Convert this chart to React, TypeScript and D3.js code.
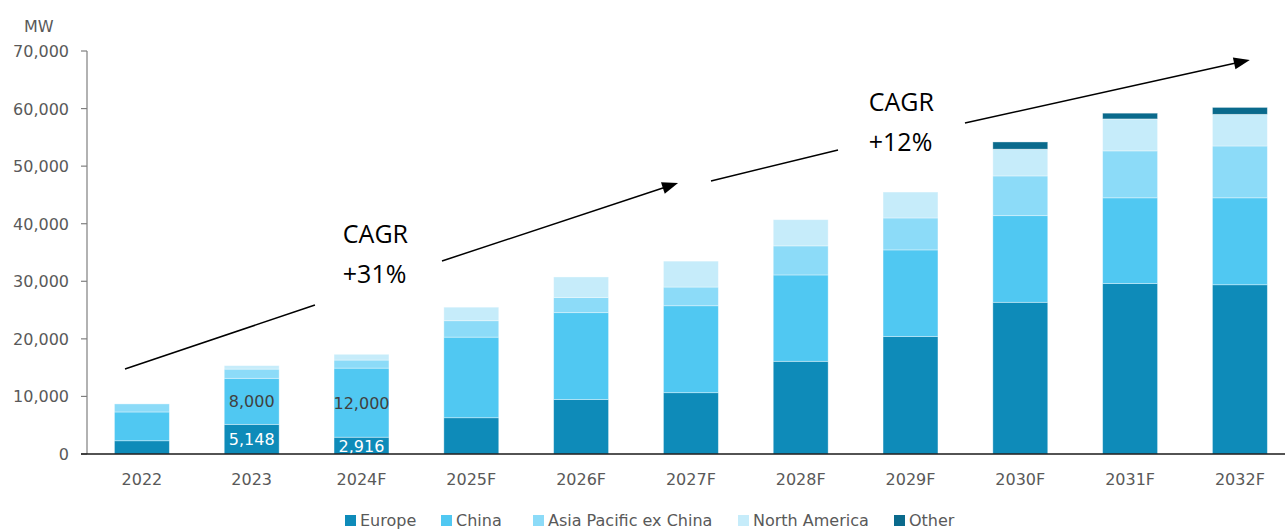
import React from 'react';
import * as d3 from 'd3';

const years = ['2022', '2023', '2024F', '2025F', '2026F', '2027F', '2028F', '2029F', '2030F', '2031F', '2032F'];
const europe = [2300, 5148, 2916, 6300, 9450, 10650, 16100, 20400, 26350, 29600, 29400];
const china = [5000, 8000, 12000, 14000, 15100, 15100, 15000, 15050, 15050, 14900, 15100];
const apac = [1400, 1600, 1400, 2850, 2650, 3250, 5050, 5550, 6900, 8150, 9000];
const northAmerica = [0, 600, 1000, 2350, 3550, 4500, 4550, 4500, 4650, 5550, 5500];
const other = [0, 0, 0, 0, 0, 0, 0, 0, 1250, 1000, 1200];

const seriesNames = ['Europe', 'China', 'Asia Pacific ex China', 'North America', 'Other'];
const seriesKeys = ['europe', 'china', 'apac', 'na', 'other'];
const colors = ['#0E8BB9', '#50C8F2', '#8CDBF8', '#C6ECFA', '#0A6A8C'];
const yTicks = [0, 10000, 20000, 30000, 40000, 50000, 60000, 70000];

// value labels: [year index, series index, text, color]
const valueLabels: [number, number, string, string][] = [
  [1, 1, '8,000', '#404040'],
  [1, 0, '5,148', '#ffffff'],
  [2, 1, '12,000', '#404040'],
  [2, 0, '2,916', '#ffffff'],
];

// CAGR annotations in data space: [category index position, value]
const arrow1a: [number, number][] = [[-0.154, 14765], [1.576, 25880]];
const arrow1b: [number, number][] = [[2.733, 33525], [4.883, 47070]];
const arrow2a: [number, number][] = [[5.183, 47420], [6.34, 52800]];
const arrow2b: [number, number][] = [[7.496, 57500], [10.09, 68440]];
const cagrTexts: [number, number, string][] = [
  [1.83, 36650, 'CAGR'],
  [1.83, 29700, '+31%'],
  [6.62, 59630, 'CAGR'],
  [6.62, 52630, '+12%'],
];

const W = 1285;
const H = 530;
const axisX = 87;
const plotTop = 51;
const plotBottom = 454;
const step = 109.8;

export default function App() {
  const x = d3.scaleBand<string>().domain(years).range([axisX, axisX + step * years.length]).paddingInner(0.5).paddingOuter(0.25);
  const y = d3.scaleLinear().domain([0, 70000]).range([plotBottom, plotTop]);
  const xi = d3.scaleLinear().domain([0, 1]).range([x(years[0])! + x.bandwidth() / 2, x(years[1])! + x.bandwidth() / 2]);

  const table = years.map((yr, i) => ({
    year: yr,
    europe: europe[i],
    china: china[i],
    apac: apac[i],
    na: northAmerica[i],
    other: other[i],
  }));
  const stacked = d3.stack<any>().keys(seriesKeys)(table);

  const font = '"DejaVu Sans", Verdana, sans-serif';
  const annFont = '"Open Sans", sans-serif';
  const gray = '#595959';

  const line = d3.line<[number, number]>().x(d => xi(d[0])).y(d => y(d[1]));

  const arrowHead = (pts: [number, number][]) => {
    const [p0, p1] = pts.map(d => [xi(d[0]), y(d[1])]);
    const ang = Math.atan2(p1[1] - p0[1], p1[0] - p0[0]);
    const len = 16, wid = 6;
    const bx = p1[0] - len * Math.cos(ang), by = p1[1] - len * Math.sin(ang);
    const nx = -Math.sin(ang), ny = Math.cos(ang);
    return `M${p1[0]},${p1[1]}L${bx + nx * wid},${by + ny * wid}L${bx - nx * wid},${by - ny * wid}Z`;
  };
  const shortened = (pts: [number, number][]) => {
    const [p0, p1] = pts.map(d => [xi(d[0]), y(d[1])]);
    const ang = Math.atan2(p1[1] - p0[1], p1[0] - p0[0]);
    return `M${p0[0]},${p0[1]}L${p1[0] - 12 * Math.cos(ang)},${p1[1] - 12 * Math.sin(ang)}`;
  };

  const legendX = [345, 441, 533, 738, 894];

  return (
    <svg width={W} height={H} style={{ position: 'absolute', left: 0, top: 0, background: '#fff' }}>
      {/* bars */}
      {stacked.map((s, si) => (
        <g key={seriesKeys[si]}>
          {s.map((d, i) =>
            d[1] - d[0] > 0 ? (
              <rect
                key={i}
                x={x(years[i])}
                y={y(d[1])}
                width={x.bandwidth()}
                height={y(d[0]) - y(d[1])}
                fill={colors[si]}
                stroke="#ffffff"
                strokeOpacity={0.45}
                strokeWidth={0.8}
              />
            ) : null
          )}
        </g>
      ))}
      {/* value labels */}
      {valueLabels.map(([i, si, t, c], k) => {
        const seg = stacked[si][i];
        return (
          <text
            key={k}
            x={x(years[i])! + x.bandwidth() / 2}
            y={(y(seg[0]) + y(seg[1])) / 2 + 6}
            textAnchor="middle"
            fontFamily={font}
            fontSize={16}
            fill={c}
          >
            {t}
          </text>
        );
      })}
      {/* y axis */}
      <line x1={axisX} x2={axisX} y1={plotTop} y2={plotBottom} stroke="#7f7f7f" strokeWidth={1.2} />
      {yTicks.map(t => (
        <g key={t}>
          <line x1={axisX - 6} x2={axisX} y1={y(t)} y2={y(t)} stroke="#7f7f7f" strokeWidth={1.2} />
          <text x={69} y={y(t) + 6} textAnchor="end" fontFamily={font} fontSize={16} fill={gray}>
            {d3.format(',')(t)}
          </text>
        </g>
      ))}
      <text x={24} y={32} fontFamily={font} fontSize={16} fill={gray}>MW</text>
      {/* x axis */}
      <line x1={axisX - 6} x2={W} y1={plotBottom} y2={plotBottom} stroke="#1a1a1a" strokeWidth={1.5} />
      {years.map(yr => (
        <text key={yr} x={x(yr)! + x.bandwidth() / 2} y={485} textAnchor="middle" fontFamily={font} fontSize={16} fill={gray}>
          {yr}
        </text>
      ))}
      {/* CAGR annotations */}
      <path d={line(arrow1a)!} stroke="#000" strokeWidth={1.5} fill="none" />
      <path d={shortened(arrow1b)} stroke="#000" strokeWidth={1.5} fill="none" />
      <path d={arrowHead(arrow1b)} fill="#000" />
      <path d={line(arrow2a)!} stroke="#000" strokeWidth={1.5} fill="none" />
      <path d={shortened(arrow2b)} stroke="#000" strokeWidth={1.5} fill="none" />
      <path d={arrowHead(arrow2b)} fill="#000" />
      {cagrTexts.map(([i, v, t], k) => (
        <text key={k} x={xi(i)} y={y(v)} fontFamily={annFont} fontSize={25} fill="#000">
          {t}
        </text>
      ))}
      {/* legend */}
      {seriesNames.map((n, i) => (
        <g key={n}>
          <rect x={legendX[i]} y={515} width={11} height={11} fill={colors[i]} />
          <text x={legendX[i] + 15} y={526} fontFamily={font} fontSize={16} fill={gray}>
            {n}
          </text>
        </g>
      ))}
    </svg>
  );
}
